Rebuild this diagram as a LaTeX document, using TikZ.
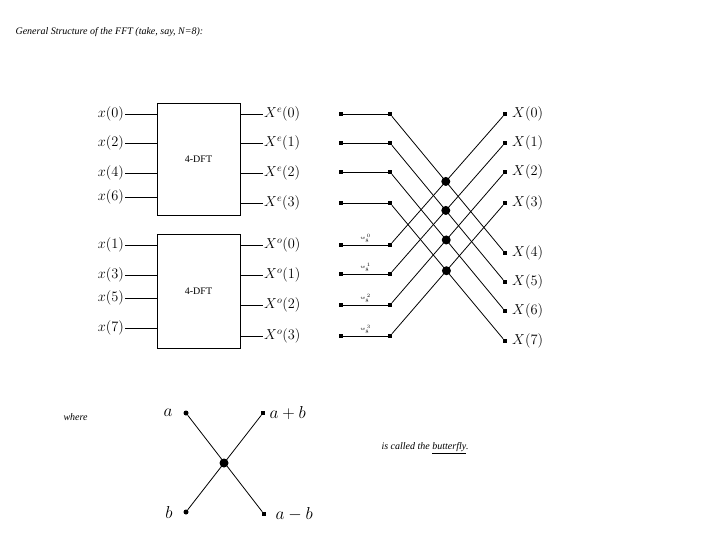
\documentclass[tikz,border=0pt]{standalone}
\usepackage{fontspec}
\setmainfont{Liberation Serif}
\usetikzlibrary{positioning,calc,intersections}
\tikzset{
  dftbox/.style={draw, thick, minimum width=83pt, minimum height=112pt, font=\normalsize},
  wire/.style={thick},
  pt/.style={fill, rectangle, inner sep=0pt, minimum size=4pt},
  bigdot/.style={fill, circle, inner sep=0pt, minimum size=9pt},
  lbl/.style={font=\Large, inner sep=1pt},
  tw/.style={font=\tiny, inner sep=0pt}
}
\begin{document}
\begin{tikzpicture}[x=1pt,y=-1pt]
  \useasboundingbox (0,0) rectangle (720,540);
  \node[anchor=west, font=\itshape] (title) at (12,32) {General Structure of the FFT (take, say, N=8):};
  % DFT blocks
  \node[dftbox] (dfte) at (198.5,159) {4-DFT};
  \node[dftbox, minimum height=114pt] (dfto) at (198.5,291) {4-DFT};
  % inputs and outputs of the blocks
  \foreach \y/\n [count=\i from 0] in {114/0,143/2,173/4,197/6} {
    \coordinate (ie\i) at (125,\y);
    \draw[wire] (ie\i) -- (157,\y);
    \node[lbl, anchor=east] at (ie\i) {$x(\n)$};
  }
  \foreach \y/\n [count=\i from 0] in {245/1,275/3,298/5,328/7} {
    \coordinate (io\i) at (125,\y);
    \draw[wire] (io\i) -- (157,\y);
    \node[lbl, anchor=east] at (io\i) {$x(\n)$};
  }
  \foreach \y [count=\i from 0] in {114,143,173,203} {
    \coordinate (oe\i) at (263,\y);
    \draw[wire] (240,\y) -- (oe\i);
    \node[lbl, anchor=west] at (oe\i) {$X^e(\i)$};
  }
  \foreach \y [count=\i from 0] in {245,275,305,336} {
    \coordinate (oo\i) at (263,\y);
    \draw[wire] (240,\y) -- (oo\i);
    \node[lbl, anchor=west] at (oo\i) {$X^o(\i)$};
  }
  % stubs into the butterflies
  \foreach \y [count=\i from 0] in {114,143,172,203,245,274,305,336} {
    \node[pt] (a\i) at (341,\y) {};
    \node[pt] (b\i) at (390,\y) {};
    \draw[wire] (a\i) -- (b\i);
  }
  \foreach \k in {0,...,3} {
    \pgfmathtruncatemacro{\j}{\k+4}
    \node[tw, above=2pt of $(a\j)!0.5!(b\j)$] {$w_8^{\,\k}$};
  }
  % outputs
  \foreach \y [count=\i from 0] in {114,143,172,203,253,282,311,341} {
    \node[pt] (c\i) at (505,\y) {};
    \node[lbl, anchor=west, xshift=6pt] at (c\i) {$X(\i)$};
  }
  % butterflies
  \foreach \k in {0,...,3} {
    \pgfmathtruncatemacro{\j}{\k+4}
    \draw[wire, name path=down] (b\k) -- (c\j);
    \draw[wire, name path=up] (b\j) -- (c\k);
    \path[name intersections={of=down and up}] node[bigdot] at (intersection-1) {};
  }
  % butterfly legend
  \node[font=\itshape, anchor=west] (where) at (60,417) {where};
  \node[fill, circle, inner sep=0pt, minimum size=5pt] (ba) at (186,413) {};
  \node[pt] (bab) at (263,413) {};
  \node[fill, circle, inner sep=0pt, minimum size=5pt] (bb) at (186,512) {};
  \node[pt] (bamb) at (264,514) {};
  \node[bigdot] (bc) at (224,463) {};
  \draw[wire] (ba) -- (bamb);
  \draw[wire] (bb) -- (bab);
  \node[font=\LARGE, anchor=east] at ([xshift=-10pt]ba) {$a$};
  \node[font=\LARGE, anchor=east] at ([xshift=-10pt]bb) {$b$};
  \node[font=\LARGE, anchor=west] at ([xshift=3pt]bab) {$a+b$};
  \node[font=\LARGE, anchor=west] at ([xshift=8pt]bamb) {$a-b$};
  \node[font=\itshape, anchor=west] (called) at (378,448) {is called the \underline{butterfly}.};
\end{tikzpicture}
\end{document}
